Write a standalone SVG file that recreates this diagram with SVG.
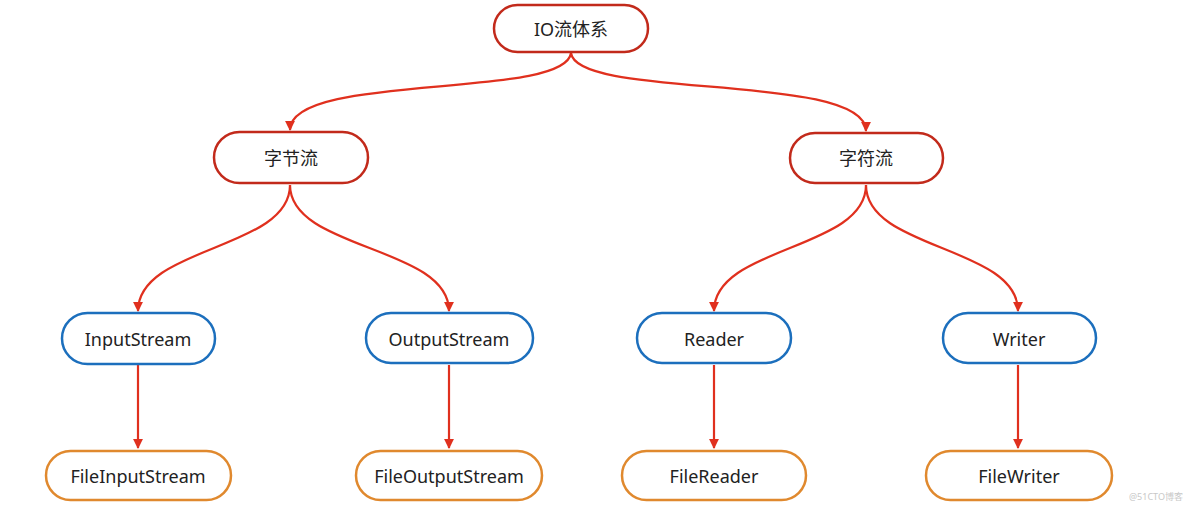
<svg xmlns="http://www.w3.org/2000/svg" width="1184" height="508" viewBox="0 0 1184 508">
<style>
.n rect{fill:#fff;stroke-width:2.5}
.r rect{stroke:#c22a1b}
.b rect{stroke:#1c6fbd}
.o rect{stroke:#e0892e}
.n text{font-family:"Noto Sans","Noto Sans CJK SC",sans-serif;font-size:18px;fill:#222;text-anchor:middle;dominant-baseline:central}
#edges path{fill:none;stroke:#e0301e;stroke-width:2.2;marker-end:url(#ah)}
.wm{font-family:"Noto Sans","Noto Sans CJK SC",sans-serif;font-size:9px;fill:#c8c8c8}
</style>
<defs>
<marker id="ah" viewBox="0 0 10 10" refX="9" refY="5" markerWidth="4.5" markerHeight="4.5" orient="auto" markerUnits="strokeWidth">
<path d="M0,0 L10,5 L0,10 z" fill="#e0301e"/>
</marker>
</defs>
<rect width="1184" height="508" fill="#fff"/>
<g id="edges">
<path d="M571,53 C565,100 290,72 290,130"/>
<path d="M571,53 C577,100 866,72 866,131"/>
<path d="M290,185 C290,250 138,246 138,311"/>
<path d="M290,185 C290,250 449,246 449,311"/>
<path d="M866,185 C866,250 714,246 714,311"/>
<path d="M866,185 C866,250 1018,246 1018,311"/>
<path d="M138,365 L138,448"/>
<path d="M449,365 L449,448"/>
<path d="M714,365 L714,448"/>
<path d="M1018,365 L1018,448"/>
</g>
<g id="io" class="n r"><rect x="494" y="5" width="154" height="47" rx="23.5"/><text x="571" y="29">IO流体系</text></g>
<g id="byte" class="n r"><rect x="214" y="132" width="154" height="51" rx="25.5"/><text x="291" y="158">字节流</text></g>
<g id="char" class="n r"><rect x="790" y="133" width="153" height="50" rx="25"/><text x="866" y="158">字符流</text></g>
<g id="inputstream" class="n b"><rect x="62" y="313" width="153" height="51" rx="25.5"/><text x="138" y="339">InputStream</text></g>
<g id="outputstream" class="n b"><rect x="366" y="313" width="167" height="50" rx="25"/><text x="449" y="339">OutputStream</text></g>
<g id="reader" class="n b"><rect x="637" y="313" width="154" height="50" rx="25"/><text x="714" y="339">Reader</text></g>
<g id="writer" class="n b"><rect x="943" y="313" width="153" height="50" rx="25"/><text x="1019" y="339">Writer</text></g>
<g id="fileinputstream" class="n o"><rect x="46" y="451" width="185" height="49" rx="24.5"/><text x="138" y="476">FileInputStream</text></g>
<g id="fileoutputstream" class="n o"><rect x="356" y="451" width="186" height="49" rx="24.5"/><text x="449" y="476">FileOutputStream</text></g>
<g id="filereader" class="n o"><rect x="622" y="451" width="184" height="49" rx="24.5"/><text x="714" y="476">FileReader</text></g>
<g id="filewriter" class="n o"><rect x="926" y="451" width="186" height="49" rx="24.5"/><text x="1019" y="476">FileWriter</text></g>
<text class="wm" x="1129" y="500">@51CTO博客</text>
</svg>
